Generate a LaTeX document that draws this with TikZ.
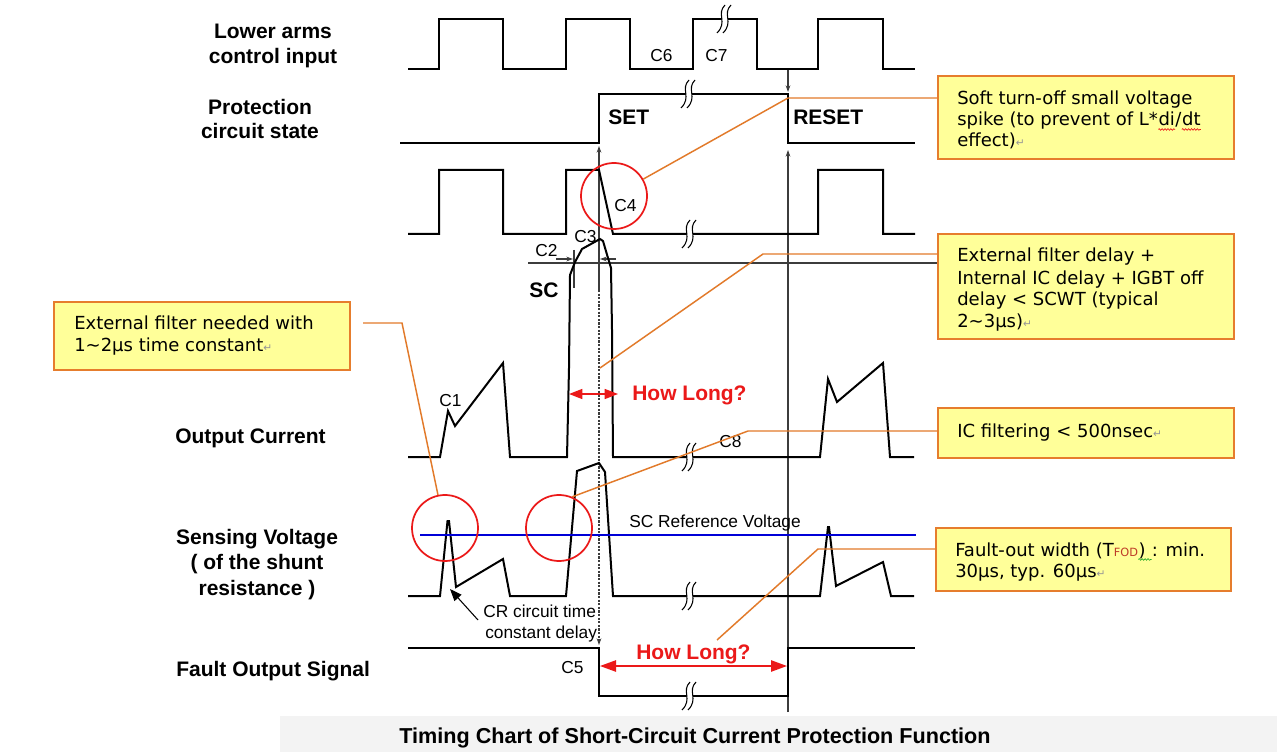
\documentclass[tikz,border=0pt]{standalone}
\usepackage{fontspec}
\setmainfont{Liberation Sans}
\newfontfamily\dv{DejaVu Sans}
\usetikzlibrary{arrows.meta,decorations.pathmorphing}
\definecolor{boxfill}{RGB}{255,255,153}
\definecolor{boxedge}{RGB}{230,125,45}
\definecolor{lead}{RGB}{226,122,42}
\definecolor{cred}{RGB}{235,25,25}
\definecolor{cblue}{RGB}{0,0,215}
\definecolor{vgray}{RGB}{60,60,60}
\definecolor{pmark}{RGB}{150,150,150}
\definecolor{fodred}{RGB}{190,60,40}
\definecolor{spgreen}{RGB}{40,170,40}
\definecolor{band}{RGB}{243,243,243}
\newcommand\parmark{{\color{pmark}\fontsize{8}{8}\selectfont ↵}}
\begin{document}
\begin{tikzpicture}[x=0.75pt,y=-0.75pt,
  wave/.style={line width=1.5pt},
  thin/.style={line width=0.8pt,draw=vgray},
  lbl/.style={font=\bfseries\fontsize{15.75}{18}\selectfont,anchor=base,inner sep=0pt},
  lblw/.style={lbl,anchor=base west},
  clbl/.style={font=\fontsize{13}{15}\selectfont,anchor=base west,inner sep=0pt},
  btxt/.style={font=\dv\fontsize{13.5}{16}\selectfont,anchor=base west,inner sep=0pt},
  hl/.style={font=\bfseries\fontsize{15.75}{18}\selectfont,text=cred,anchor=base west,inner sep=0pt},
  callout/.style={draw=boxedge,fill=boxfill,line width=1.5pt,anchor=north west,inner sep=0pt},
  leader/.style={draw=lead,line width=1.1pt},
  ring/.style={draw=cred,line width=1.3pt,circle,minimum size=66*0.75pt,inner sep=0pt},
  redarr/.style={draw=cred,line width=1.1pt,{Triangle[length=10pt,width=7.5pt]}-{Triangle[length=10pt,width=7.5pt]}},
  squig/.style={decorate,decoration={snake,amplitude=0.6pt,segment length=2.2pt},line width=0.5pt},
  brk/.pic={
    \fill[white] (3,-14) .. controls (-6,-5) and (6,3) .. (-5,14) -- (1,14) .. controls (12,3) and (0,-5) .. (9,-14) -- cycle;
    \draw[line width=0.8pt] (3,-14) .. controls (-6,-5) and (6,3) .. (-5,14);
    \draw[line width=0.8pt] (9,-14) .. controls (0,-5) and (12,3) .. (1,14);
  }]
\useasboundingbox (0,0) rectangle (1277,752);
\fill[white] (0,0) rectangle (1277,752);
\fill[band] (280,716) rectangle (1277,752);

% ---------- left labels ----------
\node[lbl] (lA) at (273,39) {Lower arms};
\node[lbl] (lB) at (273,64) {control input};
\node[lbl] (lC) at (260,115) {Protection};
\node[lbl] (lD) at (260,139) {circuit state};
\node[lblw] (lE) at (175,443) {Output Current};
\node[lbl] (lF) at (257,544) {Sensing Voltage};
\node[lbl] (lG) at (257,569) {( of the shunt};
\node[lbl] (lH) at (257,595) {resistance )};
\node[lblw] (lI) at (176,676) {Fault Output Signal};
\node[lbl] (title) at (695,743) {\fontsize{16.2}{18}\selectfont Timing Chart of Short-Circuit Current Protection Function};

% ---------- marker lines ----------
\coordinate (m1top) at (599,146);
\coordinate (m1mid) at (599,290);
\coordinate (m1bot) at (599,645);
\coordinate (m2top) at (788,150);
\coordinate (m2bot) at (788,712);
\coordinate (m3a) at (788,69);
\coordinate (m3b) at (788,92);
\draw[thin,-{Stealth[length=5pt,width=3.5pt]}] (m1mid) -- (m1top);
\draw[line width=1pt,draw=vgray,dash pattern=on 1.6pt off 1.1pt,-{Stealth[length=5pt,width=3.5pt]}] (m1mid) -- (m1bot);
\draw[thin,-{Stealth[length=5pt,width=3.5pt]}] (m2bot) -- (m2top);
\draw[thin,-{Stealth[length=5pt,width=3.5pt]}] (m3a) -- (m3b);

% SC threshold
\coordinate (th1) at (528,263);
\coordinate (th2) at (937,263);
\draw[thin] (th1) -- (th2);
\coordinate (tk1) at (574,250);
\coordinate (tk2) at (574,288);
\draw[thin] (tk1) -- (tk2);
\coordinate (c2a) at (556,259);
\coordinate (c2b) at (573,259);
\draw[thin,-{Stealth[length=5pt,width=3.5pt]}] (c2a) -- (c2b);
\coordinate (c3a) at (616,259);
\coordinate (c3b) at (600,259);
\draw[thin,-{Stealth[length=5pt,width=3.5pt]}] (c3a) -- (c3b);

% ---------- waveforms ----------
\draw[wave] (408,69)--(439,69)--(439,19)--(503,19)--(503,69)--(566,69)--(566,19)--(630,19)--(630,69)--(693,69)--(693,19)--(757,19)--(757,69)--(818,69)--(818,19)--(883,19)--(883,69)--(915,69);
\draw[wave] (400,143)--(599,143)--(599,94)--(788,94)--(788,143)--(915,143);
\draw[wave] (408,234)--(439,234)--(439,170)--(503,170)--(503,234)--(566,234)--(566,170)--(599,170)--(613,234)--(818,234)--(818,170)--(883,170)--(883,234)--(915,234);
\draw[wave] (408,457)--(440,457)--(448,411)--(455,426)--(503,363)--(510,457)--(567,457)--(569,368)--(570,275)--(575,262)--(582,249)--(600,239)--(603,241)--(608,258)--(611,268)--(612,330)--(613,457)--(820,457)--(828,379)--(837,402)--(883,363)--(890,457)--(914,457);
\draw[wave] (408,596)--(440,596)--(447.5,521)--(449,521)--(456,587)--(503,559)--(510,596)--(566,596)--(577,471)--(599,463)--(605,472)--(613,596)--(820,596)--(828,527)--(829,527)--(836,586)--(883,562)--(891,596)--(914,596);
\draw[wave] (408,648)--(599,648)--(599,696)--(788,696)--(788,648)--(915,648);

% break marks
\pic at (722,19) {brk};
\pic at (686,94) {brk};
\pic at (687,234) {brk};
\pic at (687,457) {brk};
\pic at (687,596) {brk};
\pic at (687,696) {brk};

% SC reference line
\coordinate (bl1) at (420,535);
\coordinate (bl2) at (916,535);
\draw[draw=cblue,line width=2.2pt] (bl1) -- (bl2);

% ---------- small labels ----------
\node[clbl] (C6) at (650,62) {C6};
\node[clbl] (C7) at (705,62) {C7};
\node[lblw] (SET) at (608,125) {SET};
\node[lblw] (RESET) at (793,125) {RESET};
\node[clbl] (C4) at (614,212) {C4};
\node[clbl] (C3) at (574,243) {C3};
\node[clbl] (C2) at (535,257) {C2};
\node[lblw] (SC) at (529,297) {SC};
\node[clbl] (C1) at (439,406) {C1};
\node[clbl] (C8) at (719,447) {C8};
\node[clbl] (SCR) at (629,527) {SC Reference Voltage};
\node[clbl] (CR1) at (483,617) {CR circuit time};
\node[clbl] (CR2) at (485,638) {constant delay};
\node[clbl] (C5) at (561,673) {C5};
\node[hl] (HL1) at (632,400) {How Long?};
\node[hl] (HL2) at (636,659) {How Long?};

% CR arrow
\coordinate (cra) at (478,620);
\coordinate (crb) at (450,589);
\draw[line width=0.8pt,-{Triangle[length=9pt,width=7pt]}] (cra) -- (crb);

% red arrows
\coordinate (h1a) at (569,394);
\coordinate (h1b) at (618,394);
\draw[redarr] (h1a) -- (h1b);
\coordinate (h2a) at (600,666);
\coordinate (h2b) at (787,666);
\draw[draw=cred,line width=1.1pt,{Triangle[length=12pt,width=8.5pt]}-{Triangle[length=12pt,width=8.5pt]}] (h2a) -- (h2b);

% red rings
\node[ring] (r4) at (614,196) {};
\node[ring] (r1) at (445,528) {};
\node[ring] (r2) at (559,528) {};

% ---------- callout boxes ----------
\node[callout,minimum width=296*0.75pt,minimum height=83*0.75pt] (b1) at (937,75) {};
\node[callout,minimum width=296*0.75pt,minimum height=105*0.75pt] (b2) at (937,233) {};
\node[callout,minimum width=296*0.75pt,minimum height=68*0.75pt] (b3) at (53,301) {};
\node[callout,minimum width=296*0.75pt,minimum height=50*0.75pt] (b4) at (937,407) {};
\node[callout,minimum width=295*0.75pt,minimum height=63*0.75pt] (b5) at (935,527) {};

% box 1
\node[btxt] (t11) at (957,105) {Soft turn-off small voltage};
\node[btxt] (t12a) at (957,126) {spike (to prevent of L*};
\node[btxt] (t12b) at (t12a.base east) {di};
\node[btxt] (t12c) at (t12b.base east) {/};
\node[btxt] (t12d) at (t12c.base east) {dt};
\node[btxt] (t13) at (957,147) {effect)\parmark};
\draw[squig,draw=cred] ([yshift=-2.6pt]t12b.base west) -- ([yshift=-2.6pt]t12b.base east);
\draw[squig,draw=cred] ([yshift=-2.6pt]t12d.base west) -- ([yshift=-2.6pt]t12d.base east);
% box 2
\node[btxt] (t21) at (957,262) {External filter delay +};
\node[btxt] (t22) at (957,284) {Internal IC delay + IGBT off};
\node[btxt] (t23) at (957,305.5) {delay < SCWT (typical};
\node[btxt] (t24) at (957,327) {2\textasciitilde3μs)\parmark};
% box 3
\node[btxt] (t31) at (74,329) {External filter needed with};
\node[btxt] (t32) at (74,351) {1\textasciitilde2μs time constant\parmark};
% box 4
\node[btxt] (t41) at (957,437) {IC filtering < 500nsec\parmark};
% box 5
\node[btxt] (t51a) at (955,556) {Fault-out width (T{\color{fodred}\fontsize{8.5}{9}\selectfont FOD}};
\node[btxt] (t51b) at (t51a.base east) {)};
\node[btxt] (t51c) at ([xshift=4.3pt]t51b.base east) {: min.};
\draw[squig,draw=spgreen] ([yshift=-2.6pt]t51b.base west) -- ([yshift=-2.6pt]t51c.base west);
\node[btxt] (t52) at (955,577) {30μs, typ. 60μs\parmark};

% ---------- leaders ----------
\coordinate (k1) at (788,98);
\draw[leader] (b1.west |- k1) -- (k1) -- (r4.30);
\coordinate (k2) at (763,254);
\coordinate (e2) at (600,368);
\draw[leader] (b2.west |- k2) -- (k2) -- (e2);
\coordinate (k3) at (402,323);
\coordinate (s3) at (363,323);
\draw[leader] (s3) -- (k3) -- (r1.102);
\coordinate (k4) at (748,431);
\draw[leader] (b4.west |- k4) -- (k4) -- (r2.67);
\coordinate (k5) at (818,549);
\coordinate (e5) at (717,640);
\draw[leader] (b5.west |- k5) -- (k5) -- (e5);
\end{tikzpicture}
\end{document}
